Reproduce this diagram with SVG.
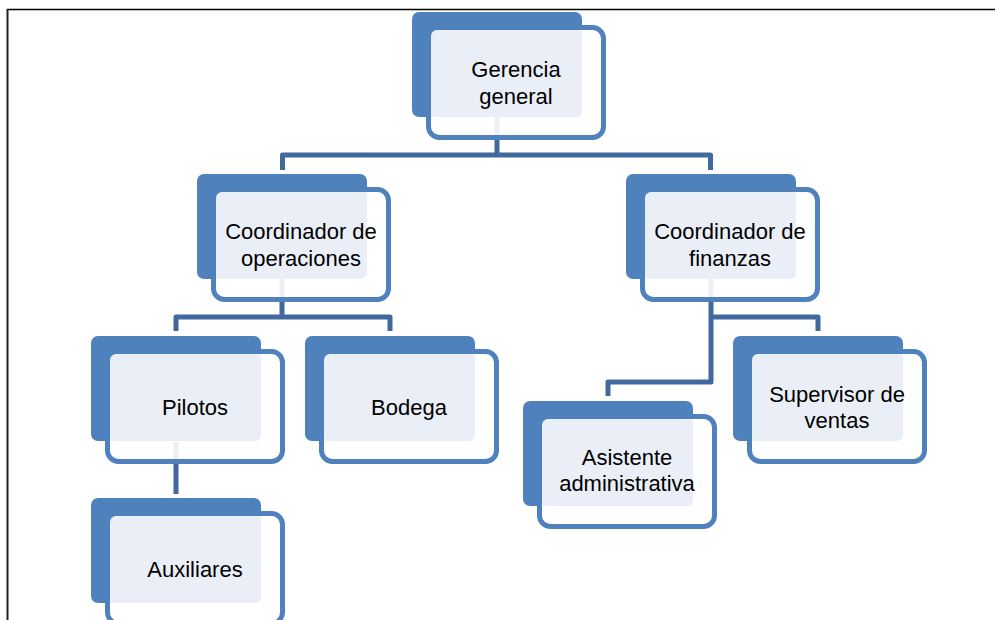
<svg xmlns="http://www.w3.org/2000/svg" width="995" height="620" viewBox="0 0 995 620">
<style>
.back{fill:#4F81BD}
.front{fill:#FFFFFF;fill-opacity:0.9;stroke:#4F81BD;stroke-width:5}
.light{fill:#EAEFF7}
.conn{fill:none;stroke:#41699D;stroke-width:5;stroke-linejoin:round}
text{font-family:"Liberation Sans",Arial,sans-serif;font-size:22px;fill:#000;text-anchor:middle}
</style>
<rect width="995" height="620" fill="#fff"/>
<path d="M7 9.5 H995" stroke="#000" stroke-width="1.5"/>
<path d="M7.5 9 V620" stroke="#222" stroke-width="2"/>
<g id="connectors">
<path class="conn" d="M497 117 V155"/>
<path class="conn" d="M282.5 170 V155 H710.5 V170"/>
<path class="conn" d="M282 279 V317"/>
<path class="conn" d="M176 331 V317 H390 V331"/>
<path class="conn" d="M711 279 V382 H608 V396"/>
<path class="conn" d="M711 317 H818 V331"/>
<path class="conn" d="M176 442 V494"/>
</g>
<g id="gerencia" transform="translate(412,12)">
<rect class="back" width="170" height="105" rx="7"/>
<rect class="front" x="16.5" y="15.5" width="175" height="110" rx="11"/>
<rect class="light" x="19" y="18" width="151" height="87" rx="6"/>
<text x="104" y="65">Gerencia</text>
<text x="104" y="92">general</text>
</g>
<g id="coord-operaciones" transform="translate(197,174)">
<rect class="back" width="170" height="105" rx="7"/>
<rect class="front" x="16.5" y="15.5" width="175" height="110" rx="11"/>
<rect class="light" x="19" y="18" width="151" height="87" rx="6"/>
<text x="104" y="65">Coordinador de</text>
<text x="104" y="92">operaciones</text>
</g>
<g id="coord-finanzas" transform="translate(626,174)">
<rect class="back" width="170" height="105" rx="7"/>
<rect class="front" x="16.5" y="15.5" width="175" height="110" rx="11"/>
<rect class="light" x="19" y="18" width="151" height="87" rx="6"/>
<text x="104" y="65">Coordinador de</text>
<text x="104" y="92">finanzas</text>
</g>
<g id="pilotos" transform="translate(91,336)">
<rect class="back" width="170" height="105" rx="7"/>
<rect class="front" x="16.5" y="15.5" width="175" height="110" rx="11"/>
<rect class="light" x="19" y="18" width="151" height="87" rx="6"/>
<text x="104" y="79">Pilotos</text>
</g>
<g id="bodega" transform="translate(305,336)">
<rect class="back" width="170" height="105" rx="7"/>
<rect class="front" x="16.5" y="15.5" width="175" height="110" rx="11"/>
<rect class="light" x="19" y="18" width="151" height="87" rx="6"/>
<text x="104" y="79">Bodega</text>
</g>
<g id="supervisor" transform="translate(733,336)">
<rect class="back" width="170" height="105" rx="7"/>
<rect class="front" x="16.5" y="15.5" width="175" height="110" rx="11"/>
<rect class="light" x="19" y="18" width="151" height="87" rx="6"/>
<text x="104" y="66">Supervisor de</text>
<text x="104" y="92">ventas</text>
</g>
<g id="asistente" transform="translate(523,401)">
<rect class="back" width="170" height="105" rx="7"/>
<rect class="front" x="16.5" y="15.5" width="175" height="110" rx="11"/>
<rect class="light" x="19" y="18" width="151" height="87" rx="6"/>
<text x="104" y="64">Asistente</text>
<text x="104" y="90">administrativa</text>
</g>
<g id="auxiliares" transform="translate(91,498)">
<rect class="back" width="170" height="105" rx="7"/>
<rect class="front" x="16.5" y="15.5" width="175" height="110" rx="11"/>
<rect class="light" x="19" y="18" width="151" height="87" rx="6"/>
<text x="104" y="79">Auxiliares</text>
</g>
</svg>
